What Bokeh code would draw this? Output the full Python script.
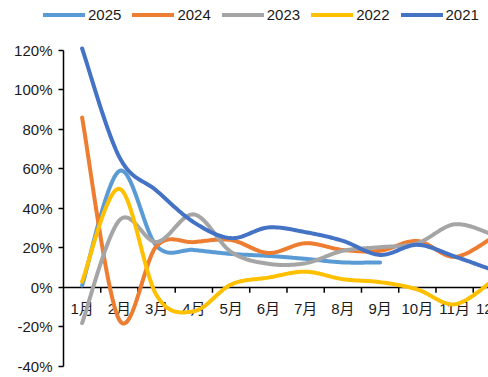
import numpy as np
from bokeh.plotting import figure
from bokeh.models import (Range1d, FixedTicker, PrintfTickFormatter, Legend, LegendItem,
                          LinearAxis, ColumnDataSource)
from bokeh.core.properties import value
from bokeh.embed import file_html
from bokeh.resources import INLINE

# ---------------- data ----------------
months = ["1月", "2月", "3月", "4月", "5月", "6月", "7月", "8月", "9月", "10月", "11月", "12月"]
series_names = ["2025", "2024", "2023", "2022", "2021"]
v2025 = [1, 59, 21, 19, 17, 16, 14.5, 12.7, 12.7]
v2024 = [86, -16.5, 21, 23, 24, 17.5, 22.4, 19, 18.6, 23.5, 15.5, 25]
v2023 = [-18, 34, 23, 37, 18, 12, 12.3, 18.6, 20.4, 22.4, 32, 27]
v2022 = [3, 50, -4, -12, 1.5, 5, 8, 4.2, 2.7, -1, -8.5, 3]
v2021 = [121, 66, 49, 33, 25, 30.4, 28, 23.6, 16.5, 21.6, 15.7, 9]
y_ticks = [-40, -20, 0, 20, 40, 60, 80, 100, 120]

series_values = [v2025, v2024, v2023, v2022, v2021]
colors = ["#5B9BD5", "#ED7D31", "#A5A5A5", "#FFC000", "#4472C4"]

FONT = "Liberation Sans, Noto Sans CJK SC"


def smooth(xs, ys, n=24):
    pts = np.column_stack([np.asarray(xs, float), np.asarray(ys, float)])
    out = [pts[0]]
    t = np.linspace(0, 1, n)[1:][:, None]
    for i in range(len(pts) - 1):
        p0 = pts[i - 1] if i > 0 else pts[i]
        p1 = pts[i]
        p2 = pts[i + 1]
        p3 = pts[i + 2] if i + 2 < len(pts) else pts[i + 1]
        c1 = p1 + (p2 - p0) / 6.0
        c2 = p2 - (p3 - p1) / 6.0
        seg = ((1 - t) ** 3) * p1 + 3 * ((1 - t) ** 2) * t * c1 + 3 * (1 - t) * t ** 2 * c2 + t ** 3 * p2
        out.extend(seg)
    out = np.array(out)
    return out[:, 0], out[:, 1]


p = figure(width=488, height=377, output_backend="svg", toolbar_location=None,
           x_range=Range1d(-1.691, 11.41), y_range=Range1d(-45.57, 145.3),
           x_axis_location=None, y_axis_location=None,
           min_border_left=0, min_border_right=0, min_border_top=0, min_border_bottom=0)
p.outline_line_color = None
p.xgrid.visible = False
p.ygrid.visible = False
p.background_fill_color = "white"
p.border_fill_color = "white"

# y axis, fixed at x = 0 (left edge of the month band)
ax = LinearAxis(fixed_location=0)
ax.ticker = FixedTicker(ticks=y_ticks)
ax.formatter = PrintfTickFormatter(format="%d%%")
ax.bounds = (y_ticks[0], y_ticks[-1])
ax.major_tick_out = 5
ax.major_tick_in = 0
ax.minor_tick_out = 0
ax.minor_tick_in = 0
ax.axis_line_width = 1.5
ax.axis_line_color = "#000000"
ax.major_tick_line_width = 1.5
ax.major_tick_line_color = "#000000"
ax.major_label_text_font = "Liberation Sans"
ax.major_label_text_font_size = "15px"
ax.major_label_text_color = "#1a1a1a"
ax.major_label_standoff = 6
p.add_layout(ax, "left")

# x axis drawn at y = 0
p.segment(x0=[0], y0=[0], x1=[len(months)], y1=[0], line_color="#000000", line_width=1.5)
bounds = list(range(1, len(months)))
p.segment(x0=bounds, y0=[0] * len(bounds), x1=bounds, y1=[-2.6] * len(bounds),
          line_color="#000000", line_width=1.5)
centers = [i + 0.5 for i in range(len(months))]
lbl_src = ColumnDataSource(dict(x=centers, y=[0] * len(months), text=months))
p.text(x="x", y="y", text="text", source=lbl_src, text_align="center",
       text_baseline="middle", y_offset=21, text_font=value(FONT),
       text_font_size=value("15px"), text_color="#1a1a1a")

items = []
for name, vals, col in zip(series_names, series_values, colors):
    xs = [i + 0.5 for i in range(len(vals))]
    sx, sy = smooth(xs, vals)
    r = p.line(sx, sy, line_color=col, line_width=4, line_join="round", line_cap="round")
    items.append(LegendItem(label=name, renderers=[r]))

legend = Legend(items=items, orientation="horizontal", location=(43, 354),
                glyph_width=42, glyph_height=15, label_height=15, label_standoff=3,
                spacing=11, padding=0, margin=0, border_line_color=None,
                background_fill_alpha=0, label_text_font="Liberation Sans",
                label_text_font_size="15px", label_text_color="#1a1a1a")
p.add_layout(legend)

open("out.html", "w").write(file_html(p, INLINE))
